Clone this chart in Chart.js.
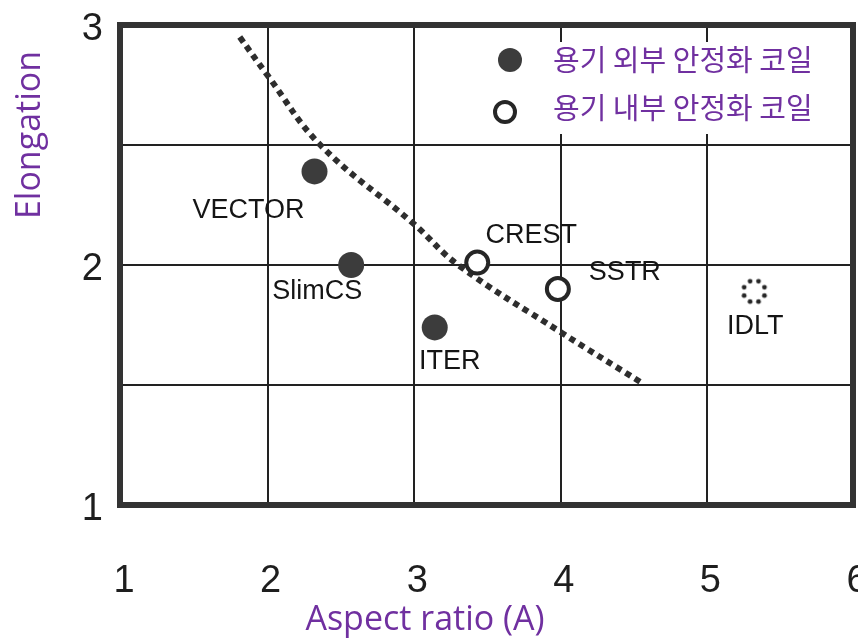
<!DOCTYPE html>
<html>
<head>
<meta charset="utf-8">
<script src="https://cdn.jsdelivr.net/npm/chart.js@4.4.1/dist/chart.umd.min.js"></script>
<style>
  html, body { margin: 0; padding: 0; background: #fff; }
  canvas { display: block; }
</style>
</head>
<body>
<canvas id="chart" width="858" height="644"></canvas>
<script>
// data
const outerNames = ['VECTOR', 'SlimCS', 'ITER'];
const outerAspect = [2.32, 2.57, 3.14];
const outerElong = [2.39, 2.0, 1.74];

const innerNames = ['CREST', 'SSTR'];
const innerAspect = [3.43, 3.98];
const innerElong = [2.01, 1.9];

const idltNames = ['IDLT'];
const idltAspect = [5.32];
const idltElong = [1.89];

// dotted limit curve
const curveAspect = [1.81, 2.0, 2.36, 3.0, 3.3, 4.0, 4.55];
const curveElong = [2.95, 2.79, 2.5, 2.17, 2.0, 1.72, 1.51];

const xTicks = [1, 2, 3, 4, 5, 6];
const yTicks = [1, 2, 3];
const legendLabels = ['용기 외부 안정화 코일', '용기 내부 안정화 코일'];
const xTitle = 'Aspect ratio (A)';
const yTitle = 'Elongation';

// label placement relative to each marker (px)
const labelOffsets = {
    VECTOR: [-66, 39], SlimCS: [-34, 27], ITER: [15, 34],
    CREST: [54, -27], SSTR: [67, -16], IDLT: [1, 35]
};

const ink = '#262626';
const purple = '#7030A0';

const toPts = (xs, ys) => xs.map((x, i) => ({ x: x, y: ys[i] }));

// dotted ring marker for IDLT
function dottedRing() {
    const c = document.createElement('canvas');
    c.width = 32; c.height = 32;
    const g = c.getContext('2d');
    g.fillStyle = ink;
    for (let k = 0; k < 8; k++) {
        const a = k * Math.PI / 4 + Math.PI / 8;
        g.beginPath();
        g.arc(16 + 11 * Math.cos(a), 16 + 11 * Math.sin(a), 2.4, 0, Math.PI * 2);
        g.fill();
    }
    return c;
}

const framePlugin = {
    id: 'frame',
    afterDatasetsDraw(chart) {
        const { ctx, chartArea: a } = chart;
        ctx.save();
        ctx.strokeStyle = '#333';
        ctx.lineWidth = 6;
        ctx.strokeRect(a.left - 1, a.top, a.right - a.left, a.bottom - a.top);
        ctx.restore();
    }
};

const labelPlugin = {
    id: 'pointLabels',
    afterDatasetsDraw(chart) {
        const ctx = chart.ctx;
        ctx.save();
        ctx.font = '27px "Liberation Sans", Arial, sans-serif';
        ctx.fillStyle = '#151515';
        ctx.textAlign = 'center';
        ctx.textBaseline = 'middle';
        [[0, outerNames], [1, innerNames], [2, idltNames]].forEach(([di, names]) => {
            chart.getDatasetMeta(di).data.forEach((pt, i) => {
                const off = labelOffsets[names[i]];
                ctx.fillText(names[i], pt.x + off[0], pt.y + off[1]);
            });
        });
        ctx.restore();
    }
};

const legendPlugin = {
    id: 'innerLegend',
    afterDraw(chart) {
        const ctx = chart.ctx;
        ctx.save();
        ctx.fillStyle = '#fff';
        ctx.fillRect(533, 42, 296, 92);
        const ds = chart.data.datasets;
        // filled marker
        ctx.beginPath();
        ctx.arc(510, 60, 12, 0, Math.PI * 2);
        ctx.fillStyle = ds[0].backgroundColor;
        ctx.fill();
        // open marker
        ctx.beginPath();
        ctx.arc(505, 112, 10, 0, Math.PI * 2);
        ctx.fillStyle = '#fff';
        ctx.fill();
        ctx.lineWidth = ds[1].borderWidth;
        ctx.strokeStyle = ds[1].borderColor;
        ctx.stroke();
        ctx.font = '29px "Noto Sans CJK KR", sans-serif';
        ctx.fillStyle = purple;
        ctx.textBaseline = 'middle';
        ctx.fillText(legendLabels[0], 553, 60);
        ctx.fillText(legendLabels[1], 553, 108);
        ctx.restore();
    }
};

const titlePlugin = {
    id: 'axisTitles',
    afterDraw(chart) {
        const ctx = chart.ctx;
        ctx.save();
        ctx.font = '34px "Open Sans", "Noto Sans", sans-serif';
        ctx.fillStyle = purple;
        ctx.textAlign = 'center';
        ctx.textBaseline = 'middle';
        ctx.fillText(xTitle, 425, 620);
        ctx.translate(30, 135);
        ctx.rotate(-Math.PI / 2);
        ctx.fillText(yTitle, 0, 0);
        ctx.restore();
    }
};

const ctx = document.getElementById('chart').getContext('2d');
new Chart(ctx, {
    type: 'scatter',
    data: {
        datasets: [
            {
                label: legendLabels[0],
                data: toPts(outerAspect, outerElong),
                pointRadius: 13,
                pointHoverRadius: 13,
                backgroundColor: '#3c3c3c',
                borderColor: '#3c3c3c',
                borderWidth: 0
            },
            {
                label: legendLabels[1],
                data: toPts(innerAspect, innerElong),
                pointRadius: 11,
                pointHoverRadius: 11,
                backgroundColor: '#fff',
                borderColor: ink,
                borderWidth: 4
            },
            {
                label: 'IDLT',
                data: toPts(idltAspect, idltElong),
                pointStyle: dottedRing()
            },
            {
                type: 'line',
                label: 'limit',
                data: toPts(curveAspect, curveElong),
                showLine: true,
                pointRadius: 0,
                borderColor: '#2e2e2e',
                borderWidth: 6,
                borderDash: [6, 5],
                borderCapStyle: 'butt',
                tension: 0.4,
                fill: false
            }
        ]
    },
    options: {
        responsive: false,
        devicePixelRatio: 1,
        animation: false,
        events: [],
        layout: { autoPadding: false, padding: { top: 25, right: 4, left: 0, bottom: 0 } },
        plugins: {
            legend: { display: false },
            tooltip: { enabled: false }
        },
        scales: {
            x: {
                type: 'linear',
                min: 1, max: 6,
                afterFit: s => {
                    s.height = 139;
                    s.paddingLeft = 0; s.paddingRight = 0;
                },
                afterBuildTicks: s => { s.ticks = xTicks.map(v => ({ value: v })); },
                ticks: {
                    padding: 54,
                    labelOffset: 3,
                    color: '#1e1e1e',
                    font: { family: '"Liberation Sans", Arial, sans-serif', size: 38 }
                },
                grid: { color: '#222', lineWidth: 2, drawTicks: false },
                border: { display: false }
            },
            y: {
                type: 'linear',
                min: 1, max: 3,
                afterFit: s => {
                    s.width = 121;
                    s.paddingTop = 0; s.paddingBottom = 0;
                },
                ticks: {
                    stepSize: 0.5,
                    padding: 18,
                    labelOffset: 5,
                    color: '#1e1e1e',
                    font: { family: '"Liberation Sans", Arial, sans-serif', size: 38 },
                    callback: v => yTicks.includes(v) ? v : ''
                },
                grid: { color: '#222', lineWidth: 2, drawTicks: false },
                border: { display: false }
            }
        }
    },
    plugins: [framePlugin, labelPlugin, legendPlugin, titlePlugin]
});
</script>
</body>
</html>
